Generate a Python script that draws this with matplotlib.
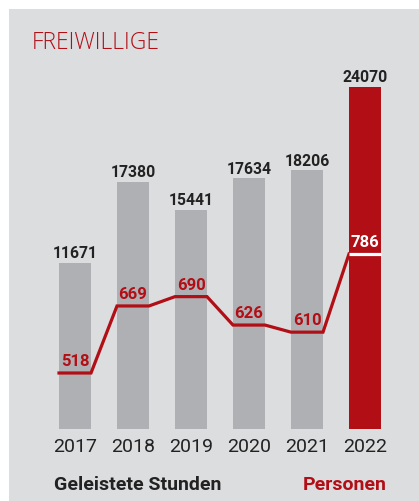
import matplotlib.pyplot as plt
from matplotlib.patches import Rectangle

# Data
years = ['2017', '2018', '2019', '2020', '2021', '2022']
stunden = [11671, 17380, 15441, 17634, 18206, 24070]
personen = [518, 669, 690, 626, 610, 786]

grey_bg = '#dcdddf'
grey_bar = '#afb0b3'
red = '#b20e16'
dark = '#222222'

W, H = 419, 502
fig = plt.figure(figsize=(W / 100, H / 100), dpi=100)
fig.patch.set_facecolor('white')
fig.patches.append(Rectangle((9 / W, 0), 1 - 9 / W, (H - 10) / H,
                             transform=fig.transFigure, facecolor=grey_bg,
                             edgecolor='none', zorder=-1))

# axes spans pixels x 9..419, y 10..430 (from top)
ax = fig.add_axes([9 / W, (H - 430) / H, 1 - 9 / W, 420 / H])
ax.set_facecolor('none')
x = list(range(len(years)))
bw = 32 / 58
ax.set_xlim((9 - 75) / 58, (419 - 75) / 58)
ax.set_ylim(0, 420 / (342 / 24070))

colors = [grey_bar] * 5 + [red]
ax.bar(x, stunden, width=bw, color=colors, zorder=2)
for xi, v in zip(x, stunden):
    ax.annotate(str(v), (xi, v), xytext=(0, 2), textcoords='offset points',
                ha='center', va='bottom', fontsize=11.3, fontweight='bold',
                family='Roboto', color=dark)

for s in ax.spines.values():
    s.set_visible(False)
ax.set_yticks([])
ax.set_xticks(x)
ax.set_xticklabels(years, family='Roboto', fontsize=14, color=dark)
ax.tick_params(axis='x', length=0, pad=6)

# Personen line on a twin axis
ax2 = ax.twinx()
ax2.set_ylim(518 - 56 / 0.444, 518 + 364 / 0.444)
ax2.set_yticks([])
for s in ax2.spines.values():
    s.set_visible(False)

lx, ly = [], []
for xi, v in zip(x, personen):
    lx += [xi - bw / 2, xi + bw / 2]
    ly += [v, v]
ax2.plot(lx[:-1], ly[:-1], color=red, lw=2.3, solid_joinstyle='miter', zorder=3)
ax2.plot(lx[-2:], ly[-2:], color='white', lw=2.3, solid_capstyle='butt', zorder=4)

for xi, v in zip(x, personen):
    c = 'white' if xi == len(x) - 1 else red
    ax2.annotate(str(v), (xi, v), xytext=(0, 3.5), textcoords='offset points',
                 ha='center', va='bottom', fontsize=12, fontweight='bold',
                 family='Roboto', color=c)

fig.text(32 / W, 1 - 43 / H, 'FREIWILLIGE', color=red, fontsize=16.5,
         family='Open Sans', fontweight='light', va='center', ha='left')
fig.text(54 / W, 1 - 485 / H, 'Geleistete Stunden', color=dark, fontsize=14,
         family='Roboto', fontweight='bold', va='center', ha='left')
fig.text(387 / W, 1 - 485 / H, 'Personen', color=red, fontsize=14,
         family='Roboto', fontweight='bold', va='center', ha='right')

fig.savefig('out.png', dpi=100)
